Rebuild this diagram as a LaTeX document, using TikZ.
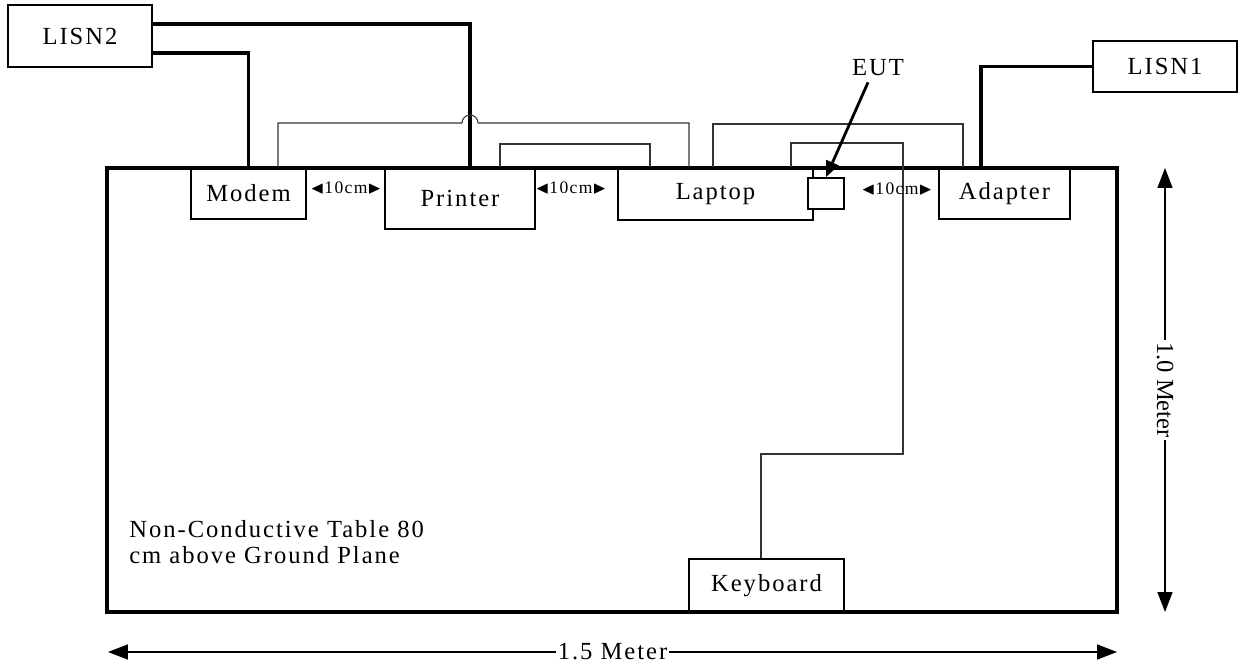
\documentclass[tikz,border=0pt]{standalone}
\usepackage{amssymb}
\usepackage{fontspec}
\setmainfont{Liberation Serif}
\newfontfamily\spacedfont[LetterSpace=8]{Liberation Serif}
\usetikzlibrary{arrows.meta,positioning}
\tikzset{
  tabletop/.style={draw=black,line width=2.2pt,inner sep=0pt},
  power/.style={black,line width=2.2pt},
  signal/.style={black!80,line width=0.6pt},
  unit/.style={draw=black,line width=0.9pt,fill=white,inner sep=0pt,
               font=\spacedfont\fontsize{14}{16}\selectfont},
  gap/.style={font=\spacedfont\fontsize{10}{12}\selectfont,inner sep=0pt},
  dim/.style={{Triangle[length=4mm,width=3mm]}-{Triangle[length=4mm,width=3mm]},line width=0.9pt},
  dimtext/.style={fill=white,inner sep=1pt,font=\fontsize{14}{16}\selectfont},
  pointer/.style={-{Triangle[length=3.2mm,width=2.6mm]},line width=1.6pt},
  note/.style={font=\spacedfont\fontsize{14}{14.5}\selectfont,align=left,inner sep=0pt},
}

\begin{document}
\begin{tikzpicture}[x=0.02cm,y=-0.02cm]
  \path[use as bounding box] (0,0) rectangle (1241,668);

  \node[unit,minimum width=2.88cm,minimum height=1.24cm] (lisn2) at (80,36) {LISN2};
  \node[unit,minimum width=2.88cm,minimum height=1.02cm] (lisn1) at (1165,66.5) {LISN1};
  \node[unit,minimum width=2.30cm,minimum height=1.02cm] (modem) at (248.5,193.5) {Modem};
  \node[unit,minimum width=3.00cm,minimum height=1.22cm] (printer) at (460,198.5) {Printer};
  \node[unit,minimum width=3.90cm,minimum height=1.04cm] (laptop) at (715.5,194) {Laptop};
  \node[unit,minimum width=0.72cm,minimum height=0.62cm] (eut) at (826,193.5) {};
  \node[unit,minimum width=2.62cm,minimum height=1.02cm] (adapter) at (1004.5,193.5) {Adapter};
  \node[unit,minimum width=3.10cm,minimum height=1.06cm] (keyboard) at (766.5,585.5) {Keyboard};

  \node[tabletop,minimum width=20.2cm,minimum height=8.88cm] (table) at (612,390) {};

  \draw[power] (lisn2.east |- 0,24) -| (470,0 |- printer.north);
  \draw[power] (lisn2.east |- 0,53) -| (modem.north);
  \draw[power] (lisn1.west) -| (981,0 |- adapter.north);

  \draw[signal] (278,0 |- modem.north) |- (462,123)
    arc[start angle=180,end angle=0,radius=0.16cm] -- (689,123) -- (689,0 |- laptop.north);
  \draw[signal] (500,0 |- printer.north) |- (650,144) -- (650,0 |- laptop.north);
  \draw[signal] (713,0 |- laptop.north) |- (963,124) -- (963,0 |- adapter.north);
  \draw[signal] (791,0 |- laptop.north) |- (903,143) |- (761,454) -- (761,0 |- keyboard.north);

  \node[gap] (gap1) at (346,188) {$\blacktriangleleft$10cm$\blacktriangleright$};
  \node[gap] (gap2) at (571,188) {$\blacktriangleleft$10cm$\blacktriangleright$};
  \node[gap] (gap3) at (897,189) {$\blacktriangleleft$10cm$\blacktriangleright$};

  \node[font=\spacedfont\fontsize{14}{16}\selectfont] (eutlbl) at (878,68) {EUT};
  \draw[pointer] ([xshift=-0.2cm]eutlbl.south) -- (eut.north);

  \node[note,anchor=west] (tablenote) at (129,542)
    {Non-Conductive Table 80\\cm above Ground Plane};

  \coordinate (vtop) at (1165,168);
  \coordinate (vbot) at (1165,612);
  \draw[dim] (vtop) -- node[dimtext,rotate=-90] {1.0 Meter} (vbot);
  \coordinate (hleft) at (108,652);
  \coordinate (hright) at (1117,652);
  \draw[dim] (hleft) -- node[dimtext,font=\spacedfont\fontsize{14}{16}\selectfont] {1.5 Meter} (hright);
\end{tikzpicture}
\end{document}
